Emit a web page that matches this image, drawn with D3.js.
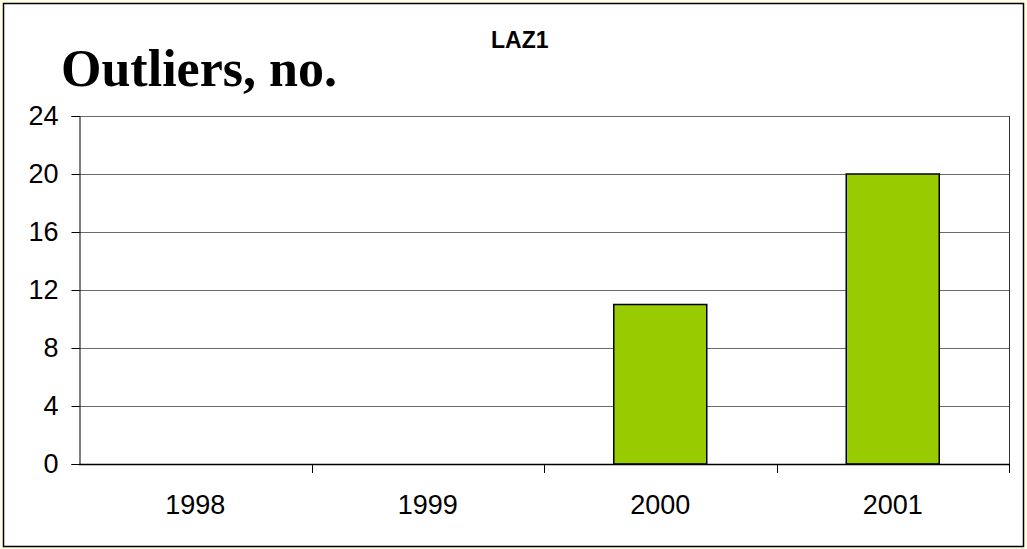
<!DOCTYPE html>
<html>
<head>
<meta charset="utf-8">
<script src="https://cdn.jsdelivr.net/npm/d3@7"></script>
<style>
  body { margin: 0; background: #fffde6; }
  svg { display: block; }
</style>
</head>
<body>
<svg id="chart" width="1027" height="549"></svg>
<script>
// data
var years = ["1998", "1999", "2000", "2001"];
var outliers = [0, 0, 11, 20];
var yTicks = [0, 4, 8, 12, 16, 20, 24];

var W = 1027, H = 549;
var plot = { left: 79, right: 1009, top: 116, bottom: 464 };

var svg = d3.select("#chart");

// outer frame
svg.append("rect")
	.attr("x", 3.5).attr("y", 3.5)
	.attr("width", W - 7).attr("height", H - 6)
	.attr("fill", "#ffffff")
	.attr("stroke", "#000000")
	.attr("stroke-width", 1.5);

var x = d3.scaleBand()
	.domain(years)
	.range([plot.left, plot.right])
	.paddingInner(0.6)
	.paddingOuter(0.3);

var xEdge = d3.scaleLinear()
	.domain([0, years.length])
	.range([plot.left, plot.right]);

var y = d3.scaleLinear()
	.domain([0, 24])
	.range([plot.bottom, plot.top]);

// gridlines
svg.append("g")
	.selectAll("line")
	.data(yTicks.filter(function(d) { return d > 0; }))
	.enter().append("line")
	.attr("x1", plot.left).attr("x2", plot.right)
	.attr("y1", function(d) { return Math.round(y(d)) + 0.5; })
	.attr("y2", function(d) { return Math.round(y(d)) + 0.5; })
	.attr("stroke", "#6a6a6a")
	.attr("stroke-width", 1.2);

// right plot border
svg.append("line")
	.attr("x1", plot.right + 0.5).attr("x2", plot.right + 0.5)
	.attr("y1", plot.top).attr("y2", plot.bottom)
	.attr("stroke", "#333333");

// bars
svg.append("g")
	.selectAll("rect")
	.data(outliers)
	.enter().append("rect")
	.filter(function(d) { return d > 0; })
	.attr("x", function(d) { return x(years[outliers.indexOf(d)]); })
	.attr("y", function(d) { return y(d); })
	.attr("width", x.bandwidth())
	.attr("height", function(d) { return y(0) - y(d); })
	.attr("fill", "#99cc00")
	.attr("stroke", "#000000")
	.attr("stroke-width", 1.5);

// y axis
var yAxis = svg.append("g")
	.attr("transform", "translate(" + (plot.left + 0.5) + ",0)")
	.call(d3.axisLeft(y).tickValues(yTicks).tickSize(8).tickPadding(13));
yAxis.select(".domain").attr("stroke", "#000000");
yAxis.selectAll(".tick line").attr("stroke", "#000000");
yAxis.selectAll("text")
	.attr("font-family", "Arial, 'Liberation Sans', sans-serif")
	.attr("font-size", "27px")
	.attr("dy", "0.3em")
	.attr("fill", "#000000");

// x axis line and ticks at category edges
svg.append("line")
	.attr("x1", plot.left).attr("x2", plot.right + 1)
	.attr("y1", plot.bottom + 0.5).attr("y2", plot.bottom + 0.5)
	.attr("stroke", "#000000")
	.attr("stroke-width", 1.5);

svg.append("g")
	.selectAll("line")
	.data(d3.range(1, years.length + 1))
	.enter().append("line")
	.attr("x1", function(d) { return Math.round(xEdge(d)) + 0.5; })
	.attr("x2", function(d) { return Math.round(xEdge(d)) + 0.5; })
	.attr("y1", plot.bottom)
	.attr("y2", plot.bottom + 9)
	.attr("stroke", "#000000");

svg.append("g")
	.selectAll("text")
	.data(years)
	.enter().append("text")
	.attr("x", function(d) { return x(d) + x.bandwidth() / 2; })
	.attr("y", 514)
	.attr("text-anchor", "middle")
	.attr("font-family", "Arial, 'Liberation Sans', sans-serif")
	.attr("font-size", "27px")
	.text(function(d) { return d; });

// titles
svg.append("text")
	.attr("x", 61).attr("y", 86)
	.attr("font-family", "'Times New Roman', 'Liberation Serif', serif")
	.attr("font-weight", "bold")
	.attr("font-size", "52px")
	.text("Outliers, no.");

svg.append("text")
	.attr("x", 491).attr("y", 48)
	.attr("font-family", "Arial, 'Liberation Sans', sans-serif")
	.attr("font-weight", "bold")
	.attr("font-size", "23px")
	.text("LAZ1");
</script>
</body>
</html>
